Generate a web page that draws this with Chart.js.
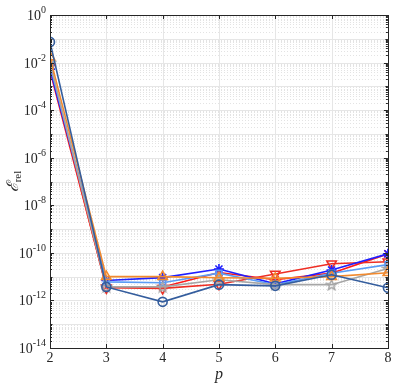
<!DOCTYPE html>
<html><head><meta charset="utf-8">
<script src="https://cdn.jsdelivr.net/npm/chart.js@4.4.1/dist/chart.umd.min.js"></script>
<style>html,body{margin:0;padding:0;background:#fff}#wrap{width:395px;height:384px}</style>
</head><body><div id="wrap"><canvas id="c" width="395" height="384"></canvas></div>
<script>
const pValues = [2, 3, 4, 5, 6, 7, 8];
const yTickExponents = [0, -2, -4, -6, -8, -10, -12, -14];
const xTickLabels = ['2', '3', '4', '5', '6', '7', '8'];
const seriesCircle   = [7.4e-2, 3.7e-12, 8.7e-13, 4.6e-12, 4.1e-12, 1.2e-11, 3.4e-12];
const seriesTriUp    = [1.7e-2, 1.0e-11, 1.0e-11, 9.0e-12, 8.5e-12, 1.0e-11, 1.45e-11];
const seriesPenta    = [1.0e-2, 3.7e-12, 3.7e-12, 7.4e-12, 4.6e-12, 4.6e-12, 2.2e-11];
const seriesSquare   = [7.8e-3, 6.0e-12, 5.5e-12, 1.4e-11, 4.6e-12, 1.4e-11, 3.2e-11];
const seriesStar     = [5.3e-3, 6.9e-12, 9.1e-12, 2.1e-11, 5.0e-12, 1.9e-11, 9.1e-11];
const seriesTriDown  = [6.6e-3, 3.4e-12, 3.2e-12, 4.8e-12, 1.3e-11, 3.5e-11, 4.2e-11];
const seriesCross    = [4.5e-3, 3.7e-12, 3.7e-12, 1.5e-11, 7.4e-12, 1.4e-11, 9.1e-11];

function pentagram(color){
  const s = 13, c = document.createElement('canvas');
  c.width = s; c.height = s;
  const g = c.getContext('2d');
  g.beginPath();
  for (let i = 0; i < 10; i++) {
    const r = i % 2 === 0 ? 5.5 : 2.3;
    const a = -Math.PI/2 + i*Math.PI/5;
    const x = s/2 + r*Math.cos(a), y = s/2 + 0.5 + r*Math.sin(a);
    i === 0 ? g.moveTo(x, y) : g.lineTo(x, y);
  }
  g.closePath();
  g.strokeStyle = color; g.lineWidth = 1.4; g.stroke();
  return c;
}

function ds(data, color, style, rot, extra) {
  return Object.assign({
    data: data.map((v, i) => ({x: pValues[i], y: v})),
    borderColor: color, backgroundColor: 'rgba(255,255,255,0)',
    pointBorderColor: color, pointBackgroundColor: 'rgba(255,255,255,0)',
    pointStyle: style, pointRotation: rot || 0, pointRadius: 4.5, pointBorderWidth: 1.6,
    borderWidth: 1.6, tension: 0, fill: false
  }, extra || {});
}

const datasets = [
  ds(seriesCircle, '#345d9d', 'circle'),
  ds(seriesTriUp, '#f28a2e', 'triangle', 0, {pointRadius: 5.5}),
  ds(seriesPenta, '#a6a6a6', pentagram('#a6a6a6')),
  ds(seriesSquare, '#5a9cf5', 'rect', 0, {pointRadius: 4}),
  ds(seriesStar, '#1f1fff', 'star', 0, {pointRadius: 5}),
  ds(seriesTriDown, '#ee2e24', 'triangle', 180, {pointRadius: 5.5}),
  ds(seriesCross, '#ff1a1a', 'crossRot', 0, {pointRadius: 5})
];

const serif = '"Liberation Serif", "DejaVu Serif", serif';

const decorPlugin = {
  id: 'decor',
  beforeDatasetsDraw(chart) {
    const {ctx, chartArea: a, scales: {x, y}} = chart;
    ctx.save();
    // minor dotted grid
    ctx.strokeStyle = '#e3e3e3'; ctx.lineWidth = 1; ctx.setLineDash([1, 2]);
    for (let e = -14; e < 0; e++) {
      for (let k = 2; k <= 9; k++) {
        const py = Math.round(y.getPixelForValue(k * Math.pow(10, e))) + 0.5;
        ctx.beginPath(); ctx.moveTo(a.left, py); ctx.lineTo(a.right, py); ctx.stroke();
      }
    }
    ctx.setLineDash([]);
    // major grid (each decade)
    ctx.strokeStyle = '#e6e6e6';
    for (let e = -13; e < 0; e++) {
      const py = Math.round(y.getPixelForValue(Math.pow(10, e))) + 0.5;
      ctx.beginPath(); ctx.moveTo(a.left, py); ctx.lineTo(a.right, py); ctx.stroke();
    }
    for (let i = 1; i < pValues.length - 1; i++) {
      const px = Math.round(x.getPixelForValue(pValues[i])) + 0.5;
      ctx.beginPath(); ctx.moveTo(px, a.top); ctx.lineTo(px, a.bottom); ctx.stroke();
    }
    ctx.restore();
  },
  afterDraw(chart) {
    const {ctx, chartArea: a, scales: {x, y}} = chart;
    ctx.save();
    // box
    ctx.strokeStyle = '#262626'; ctx.lineWidth = 1;
    ctx.strokeRect(Math.round(a.left) + 0.5, Math.round(a.top) + 0.5, Math.round(a.right - a.left), Math.round(a.bottom - a.top));
    // ticks inside
    ctx.beginPath();
    for (let e = -14; e <= 0; e++) {
      const py = Math.round(y.getPixelForValue(Math.pow(10, e))) + 0.5;
      const len = (e % 2 === 0) ? 4 : 2.5;
      ctx.moveTo(a.left, py); ctx.lineTo(a.left + len, py);
      ctx.moveTo(a.right, py); ctx.lineTo(a.right - len, py);
      if (e < 0) {
        for (let k = 2; k <= 9; k++) {
          const my = Math.round(y.getPixelForValue(k * Math.pow(10, e))) + 0.5;
          ctx.moveTo(a.left, my); ctx.lineTo(a.left + 2, my);
          ctx.moveTo(a.right, my); ctx.lineTo(a.right - 2, my);
        }
      }
    }
    pValues.forEach(p => {
      const px = Math.round(x.getPixelForValue(p)) + 0.5;
      ctx.moveTo(px, a.bottom); ctx.lineTo(px, a.bottom - 4);
      ctx.moveTo(px, a.top); ctx.lineTo(px, a.top + 4);
    });
    ctx.stroke();
    // y tick labels 10^e
    ctx.fillStyle = '#262626';
    ctx.textBaseline = 'alphabetic';
    yTickExponents.forEach(e => {
      const py = y.getPixelForValue(Math.pow(10, e));
      const exp = String(e).replace('-', '-');
      ctx.font = '10px ' + serif;
      const ew = ctx.measureText(exp).width;
      const right = a.left - 4;
      ctx.textAlign = 'right';
      ctx.fillText(exp, right, py - 2);
      ctx.font = '14px ' + serif;
      ctx.fillText('10', right - ew, py + 5);
    });
    // y title
    ctx.translate(13, (a.top + a.bottom) / 2);
    ctx.rotate(-Math.PI / 2);
    ctx.textAlign = 'left';
    ctx.font = 'italic 16px ' + serif;
    const mainW = ctx.measureText('\u2130').width;
    ctx.font = '11px ' + serif;
    const subW = ctx.measureText('rel').width;
    const start = -(mainW + subW) / 2;
    ctx.font = 'italic 16px ' + serif;
    ctx.fillText('\u2130', start, 5);
    ctx.font = '11px ' + serif;
    ctx.fillText('rel', start + mainW, 8);
    ctx.restore();
  }
};

new Chart(document.getElementById('c'), {
  type: 'line',
  data: {datasets},
  options: {
    responsive: false, animation: false,
    layout: {padding: {top: 15, right: 4, left: 0, bottom: 0}},
    plugins: {legend: {display: false}, tooltip: {enabled: false}},
    scales: {
      x: {
        type: 'linear', min: 2, max: 8,
        afterBuildTicks: s => { s.ticks = pValues.map(v => ({value: v})); },
        ticks: {callback: (v, i) => xTickLabels[i], color: '#262626', font: {family: serif, size: 14}, padding: 2, maxRotation: 0},
        grid: {display: false, drawTicks: false},
        border: {display: false},
        title: {display: true, text: 'p', color: '#262626', font: {family: serif, size: 16, style: 'italic'}, padding: {top: 0, bottom: 0}},
        afterFit: s => { s.height = 36; }
      },
      y: {
        type: 'logarithmic', min: 1e-14, max: 1,
        ticks: {display: false},
        grid: {display: false, drawTicks: false},
        border: {display: false},
        afterFit: s => { s.width = 50; }
      }
    }
  },
  plugins: [decorPlugin]
});
</script></body></html>
